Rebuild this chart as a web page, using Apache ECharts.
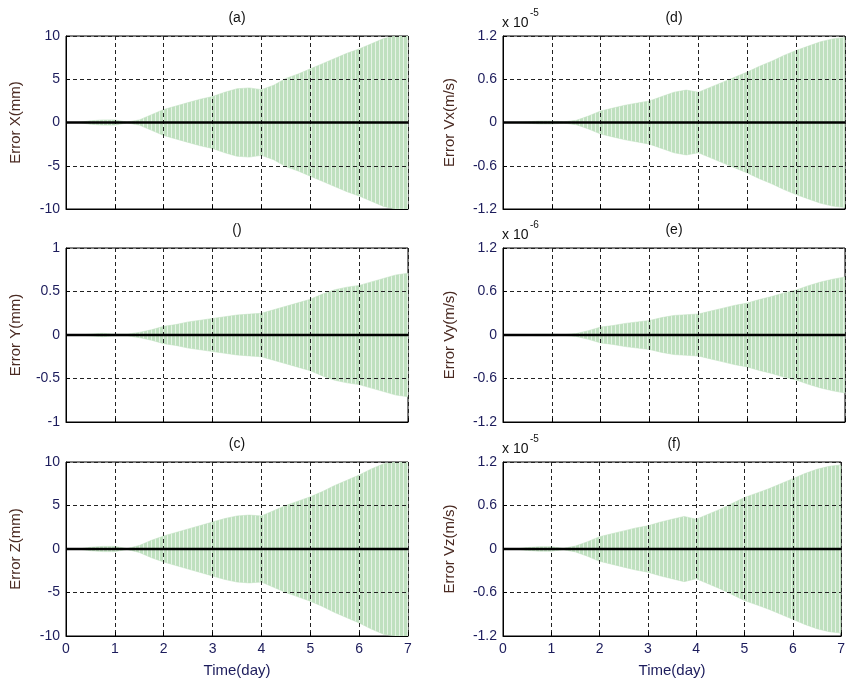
<!DOCTYPE html>
<html>
<head>
<meta charset="utf-8">
<script src="https://cdn.jsdelivr.net/npm/echarts@6/dist/echarts.min.js"></script>
<style>
html,body{margin:0;padding:0;background:#fff}
#main{width:848px;height:681px}
</style>
</head>
<body>
<div id="main"></div>
<script>
// sample times (day) where the envelope of the green error signal was read
var times = [0,0.25,0.5,0.75,1,1.25,1.5,1.75,2,2.25,2.5,2.75,3,3.25,3.5,3.75,4,4.25,4.5,4.75,5,5.25,5.5,5.75,6,6.25,6.5,6.75,7];

// amplitude (half of the peak-to-peak) of the oscillating error, one array per panel
var ampX  = [0,0,0.2,0.3,0.3,0.05,0.3,0.9,1.5,1.9,2.3,2.7,3.0,3.5,3.9,4.0,3.8,4.3,5.1,5.6,6.2,6.8,7.4,8.0,8.5,9.1,9.7,10,10];
var ampY  = [0,0,0.01,0.02,0.01,0.01,0.03,0.06,0.1,0.12,0.15,0.17,0.19,0.21,0.23,0.24,0.25,0.29,0.33,0.37,0.41,0.47,0.52,0.55,0.57,0.61,0.65,0.69,0.71];
var ampZ  = [0,0,0.2,0.3,0.3,0.05,0.4,1.0,1.5,1.9,2.3,2.7,3.1,3.5,3.8,3.9,3.8,4.4,5.0,5.5,6.0,6.6,7.3,7.9,8.5,9.2,9.8,10,10];
var ampVx = [0,0,0.01,0.02,0.02,0.01,0.03,0.09,0.16,0.2,0.24,0.27,0.3,0.36,0.42,0.45,0.42,0.49,0.56,0.63,0.7,0.78,0.85,0.93,1.0,1.06,1.12,1.16,1.18];
var ampVy = [0,0,0.005,0.01,0.01,0.005,0.02,0.06,0.11,0.13,0.16,0.18,0.2,0.24,0.27,0.28,0.29,0.33,0.37,0.41,0.44,0.49,0.53,0.58,0.62,0.68,0.73,0.77,0.8];
var ampVz = [0,0,0.02,0.03,0.03,0.01,0.04,0.1,0.17,0.21,0.25,0.29,0.32,0.37,0.41,0.45,0.41,0.48,0.55,0.63,0.71,0.77,0.83,0.9,0.97,1.04,1.1,1.14,1.16];

// the black (corrected) error, flat on zero
var resid = [0,0,0,0,0,0,0,0,0,0,0,0,0,0,0,0,0,0,0,0,0,0,0,0,0,0,0,0,0];

var panelTitles = ['(a)','()','(c)','(d)','(e)','(f)'];
var yNames = ['Error X(mm)','Error Y(mm)','Error Z(mm)','Error Vx(m/s)','Error Vy(m/s)','Error Vz(m/s)'];
var yRanges = [[-10,10,5],[-1,1,0.5],[-10,10,5],[-1.2,1.2,0.6],[-1.2,1.2,0.6],[-1.2,1.2,0.6]];
var exponents = ['','','','-5','-6','-5'];
var amps = [ampX, ampY, ampZ, ampVx, ampVy, ampVz];

// 每个子图的位置
var cols = [66, 503];
var rows = [[36,173],[248,174],[462,174]];
var plotW = 342;

var tickColor = '#1c1c5c';
var nameColor = '#4a2a22';
var fontFam = '"Liberation Sans", Arial, sans-serif';

// green fill drawn as narrow vertical stripes
function stripes(){
    var c = document.createElement('canvas');
    c.width = 4; c.height = 4;
    var ctx = c.getContext('2d');
    ctx.fillStyle = '#bfe0bf';
    ctx.fillRect(0,0,3,4);
    ctx.fillStyle = '#e6f3e6';
    ctx.fillRect(3,0,1,4);
    return c.toDataURL();
}
var patUrl = stripes();

function pairs(arr, sign){
    var out = [];
    for (var i = 0; i < times.length; i++){
        out.push([times[i], sign*arr[i]]);
    }
    return out;
}

function fmt(v){
    return String(Math.round(v*100)/100);
}

var grids = [], xAxes = [], yAxes = [], series = [], graphics = [];

for (var p = 0; p < 6; p++){
    var col = p < 3 ? 0 : 1;
    var row = p % 3;
    var gLeft = cols[col], gTop = rows[row][0], gH = rows[row][1];
    var isBottom = row == 2;
    grids.push({left:gLeft, top:gTop, width:plotW, height:gH, show:true, borderColor:'#000', borderWidth:1, backgroundColor:'#fff'});
    // axes on an upper layer so the dashed grid shows over the green
    xAxes.push({
        type:'value', gridIndex:p, min:0, max:7, interval:1, zlevel:1,
        axisLine:{show:true, onZero:false, lineStyle:{color:'#000'}},
        axisTick:{show:true, inside:true, length:4, lineStyle:{color:'#000'}},
        axisLabel:{show:isBottom, color:tickColor, fontSize:14, fontFamily:fontFam, margin:6},
        splitLine:{show:true, lineStyle:{color:'#222', type:[4,3], width:1}},
        name: isBottom ? 'Time(day)' : '', nameLocation:'middle', nameGap:27,
        nameTextStyle:{color:tickColor, fontSize:15, fontFamily:fontFam}
    });
    var yr = yRanges[p];
    yAxes.push({
        type:'value', gridIndex:p, min:yr[0], max:yr[1], interval:yr[2], zlevel:1,
        axisLine:{show:true, onZero:false, lineStyle:{color:'#000'}},
        axisTick:{show:true, inside:true, length:4, lineStyle:{color:'#000'}},
        axisLabel:{color:tickColor, fontSize:14, fontFamily:fontFam, margin:6, formatter:fmt},
        splitLine:{show:true, lineStyle:{color:'#222', type:[4,3], width:1}},
        name:yNames[p], nameLocation:'middle', nameGap:col == 0 ? 43 : 46, nameRotate:90,
        nameTextStyle:{color:nameColor, fontSize:15, fontFamily:fontFam}
    });
    series.push({
        type:'line', xAxisIndex:p, yAxisIndex:p, data:pairs(amps[p], 1),
        showSymbol:false, silent:true, z:2,
        lineStyle:{color:'#bfe0bf', width:0.5},
        areaStyle:{color:{image:patUrl, repeat:'repeat'}, opacity:1}
    });
    series.push({
        type:'line', xAxisIndex:p, yAxisIndex:p, data:pairs(amps[p], -1),
        showSymbol:false, silent:true, z:2,
        lineStyle:{color:'#bfe0bf', width:0.5},
        areaStyle:{color:{image:patUrl, repeat:'repeat'}, opacity:1}
    });
    series.push({
        type:'line', xAxisIndex:p, yAxisIndex:p, data:pairs(resid, 1),
        showSymbol:false, silent:true, zlevel:1, z:10,
        lineStyle:{color:'#000', width:2.5}
    });
    graphics.push({
        type:'text', x:gLeft + plotW/2, y:gTop - 18,
        style:{text:panelTitles[p], fill:'#111', font:'14px ' + fontFam, textAlign:'center', textVerticalAlign:'middle'}
    });
    if (exponents[p]){
        graphics.push({
            type:'text', x:gLeft - 1, y:gTop - 13,
            style:{text:'x 10', fill:'#111', font:'14px ' + fontFam, textAlign:'left', textVerticalAlign:'middle'}
        });
        graphics.push({
            type:'text', x:gLeft + 27, y:gTop - 23,
            style:{text:exponents[p], fill:'#111', font:'10px ' + fontFam, textAlign:'left', textVerticalAlign:'middle'}
        });
    }
}

var myChart = echarts.init(document.getElementById('main'));
myChart.setOption({
    animation:false,
    backgroundColor:'#fff',
    grid:grids,
    xAxis:xAxes,
    yAxis:yAxes,
    series:series,
    graphic:graphics
});
</script>
</body>
</html>
